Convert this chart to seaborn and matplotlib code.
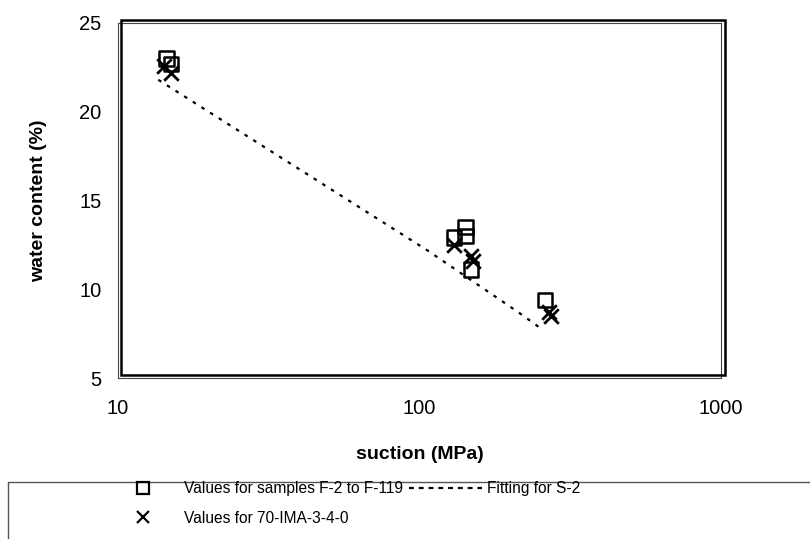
import numpy as np
import pandas as pd
import matplotlib
matplotlib.use("Agg")
import matplotlib.pyplot as plt
import seaborn as sns
from matplotlib.patches import Rectangle
from matplotlib.lines import Line2D

# ---- data ----
sq_suction = [14.5, 15.0, 130, 142, 142, 148, 261]
sq_water = [23.0, 22.7, 12.9, 13.5, 13.0, 11.1, 9.4]
x_suction = [14.2, 15.0, 130, 148, 150, 268, 272]
x_water = [22.6, 22.2, 12.5, 11.9, 11.6, 8.7, 8.5]
fit_suction = [13.6, 106, 215, 257]
fit_water = [21.8, 12.2, 8.65, 7.7]

x_ticks = [10, 100, 1000]
y_ticks = [5, 10, 15, 20, 25]

lab_sq = "Values for samples F-2 to F-119"
lab_x = "Values for 70-IMA-3-4-0"
lab_fit = "Fitting for S-2"

sns.set_theme(style="white")
plt.rcParams['font.family'] = ['Liberation Sans', 'DejaVu Sans']
plt.rcParams['text.color'] = 'black'
plt.rcParams['axes.labelcolor'] = 'black'

W, H = 810, 539
fig = plt.figure(figsize=(W / 100, H / 100), dpi=100)
L, R, T, B = 118, 721, 23, 378
ax = fig.add_axes([L / W, 1 - B / H, (R - L) / W, (B - T) / H])

df_sq = pd.DataFrame({"suction": sq_suction, "water": sq_water})
df_x = pd.DataFrame({"suction": x_suction, "water": x_water})
df_fit = pd.DataFrame({"suction": fit_suction, "water": fit_water})

sns.lineplot(data=df_fit, x="suction", y="water", ax=ax, color="black",
             lw=1.6, linestyle=(0, (1.6, 3.0)), label=lab_fit, legend=False)
sns.scatterplot(data=df_sq, x="suction", y="water", ax=ax, marker="s",
                s=110, facecolor="none", edgecolor="black", linewidth=1.8,
                label=lab_sq, legend=False)
sns.scatterplot(data=df_x, x="suction", y="water", ax=ax, marker="x",
                s=110, color="black", linewidth=2.0, label=lab_x, legend=False)

ax.set_xscale("log")
ax.set_xlim(10, 1000)
ax.set_ylim(5, 25)
ax.set_xticks(x_ticks)
ax.set_xticklabels([str(v) for v in x_ticks])
ax.set_yticks(y_ticks)
ax.minorticks_off()
ax.tick_params(axis="both", which="major", direction="inout", length=8,
               width=0.8, color="black", labelsize=14.5, labelcolor="black")
ax.tick_params(axis="y", pad=8)
ax.tick_params(axis="x", pad=11)
for s in ax.spines.values():
    s.set_color("#444444")
    s.set_linewidth(0.8)

ax.set_xlabel("suction (MPa)", fontsize=14, fontweight="bold", labelpad=20,
              color="black")
ax.set_ylabel("water content (%)", fontsize=14, fontweight="bold", labelpad=23,
              color="black")

# plot-area border (offset, thick)
fig.add_artist(Rectangle(((L + 3) / W, 1 - (B - 3) / H), (R - L + 1) / W,
                         (B - T) / H, transform=fig.transFigure,
                         fill=False, edgecolor="black", lw=1.8))

# legend box lines (top and left edge visible)
fig.add_artist(Line2D([8 / W, 1.0], [1 - 482 / H, 1 - 482 / H],
                      transform=fig.transFigure, color="#555555", lw=1.0))
fig.add_artist(Line2D([8 / W, 8 / W], [1 - 482 / H, 0.0],
                      transform=fig.transFigure, color="#555555", lw=1.0))

h_sq = Line2D([], [], marker="s", ls="none", mfc="none", mec="black", mew=1.6, ms=9)
h_x = Line2D([], [], marker="x", ls="none", color="black", mew=1.6, ms=9)
h_fit = Line2D([], [], color="black", lw=1.6, linestyle=(0, (2.2, 2.2)))
leg = fig.legend([h_sq, h_x, h_fit], [lab_sq, lab_x, lab_fit], ncol=2,
                 loc="upper left", bbox_to_anchor=(106 / W, 1 - 481 / H),
                 frameon=False, fontsize=11.2, handlelength=4.7,
                 handletextpad=0.3, columnspacing=0.4, borderpad=0.0,
                 borderaxespad=0.0, labelspacing=0.95)
for t in leg.get_texts():
    t.set_color("black")

fig.savefig("out.png", dpi=100)
